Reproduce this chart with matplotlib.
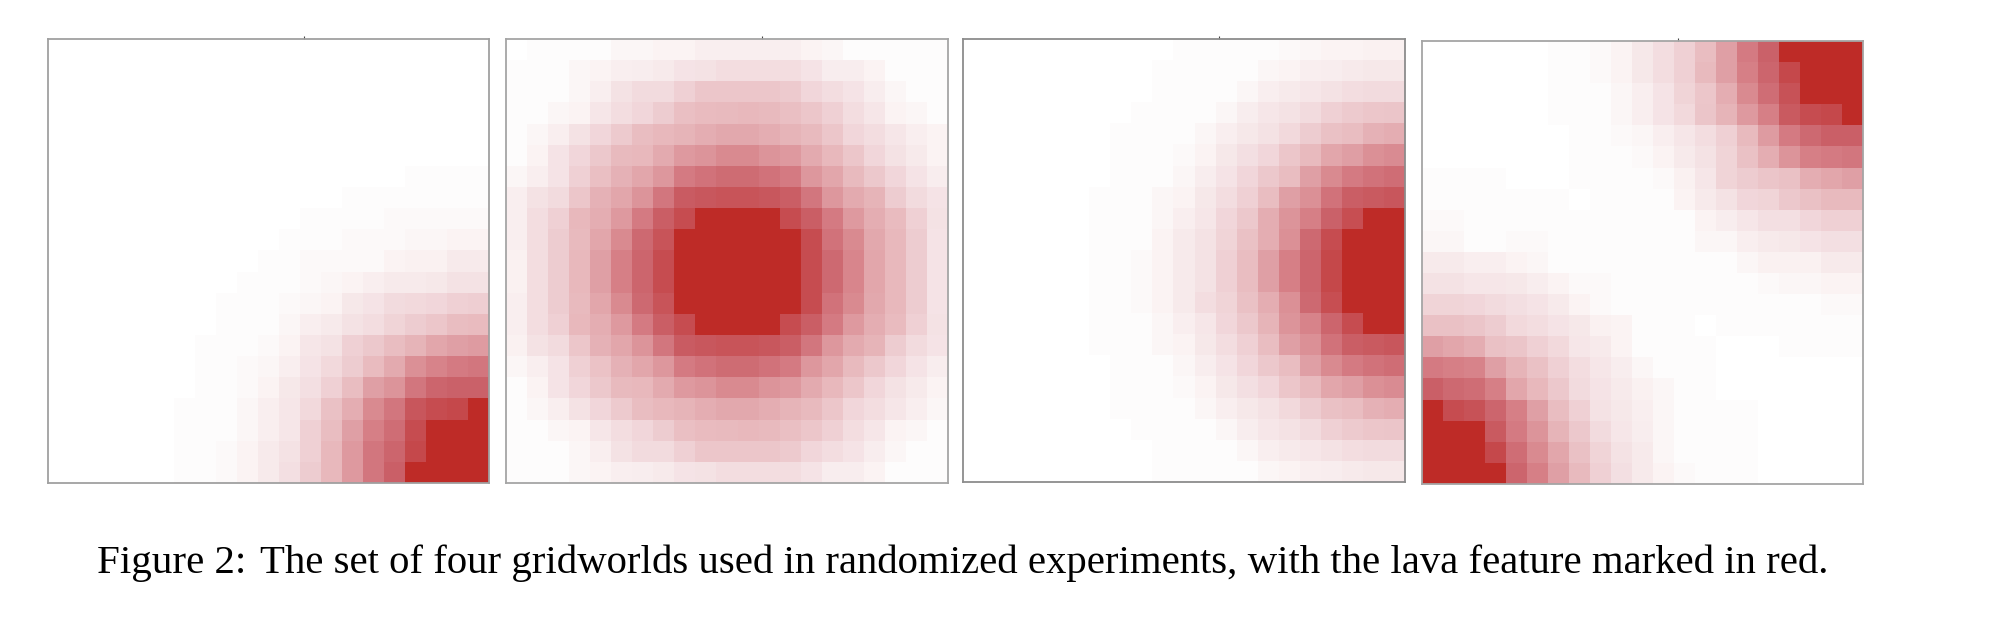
import matplotlib
matplotlib.use('Agg')
import matplotlib.pyplot as plt
from matplotlib.colors import LinearSegmentedColormap
import numpy as np

# lava intensity per cell, 0 = white, 100 = full red
corner_grid = [
    [0,0,0,0,0,0,0,0,0,0,0,0,0,0,0,0,0,0,0,0,0],
    [0,0,0,0,0,0,0,0,0,0,0,0,0,0,0,0,0,0,0,0,0],
    [0,0,0,0,0,0,0,0,0,0,0,0,0,0,0,0,0,0,0,0,0],
    [0,0,0,0,0,0,0,0,0,0,0,0,0,0,0,0,0,0,0,0,0],
    [0,0,0,0,0,0,0,0,0,0,0,0,0,0,0,0,0,0,0,0,0],
    [0,0,0,0,0,0,0,0,0,0,0,0,0,0,0,0,0,0,0,0,0],
    [0,0,0,0,0,0,0,0,0,0,0,0,0,0,0,0,0,1,1,1,1],
    [0,0,0,0,0,0,0,0,0,0,0,0,0,0,1,1,1,1,1,1,1],
    [0,0,0,0,0,0,0,0,0,0,0,0,1,1,1,1,2,2,2,2,2],
    [0,0,0,0,0,0,0,0,0,0,0,1,1,1,2,2,2,3,3,4,4],
    [0,0,0,0,0,0,0,0,0,0,1,1,2,2,2,2,4,5,5,8,8],
    [0,0,0,0,0,0,0,0,0,1,1,1,2,3,4,6,8,8,9,12,12],
    [0,0,0,0,0,0,0,0,1,1,1,2,3,4,9,11,15,16,17,20,21],
    [0,0,0,0,0,0,0,0,1,1,1,3,6,8,12,14,18,22,25,30,31],
    [0,0,0,0,0,0,0,1,1,1,2,4,10,12,20,24,30,35,42,45,47],
    [0,0,0,0,0,0,0,1,1,2,3,6,11,16,22,31,40,52,58,62,64],
    [0,0,0,0,0,0,0,1,1,2,4,9,13,20,30,45,50,64,72,74,74],
    [0,0,0,0,0,0,1,1,1,3,6,10,16,28,38,55,64,80,85,87,100],
    [0,0,0,0,0,0,1,1,1,3,6,10,20,30,45,60,68,85,100,100,100],
    [0,0,0,0,0,0,1,1,2,4,8,12,20,33,48,64,72,87,100,100,100],
    [0,0,0,0,0,0,1,1,2,4,8,13,22,33,48,64,75,100,100,100,100],
]

center_grid = [
    [0,1,1,1,1,3,3,4,4,6,6,6,6,6,4,3,1,1,1,1,1],
    [1,1,1,3,4,6,7,8,11,12,14,14,14,14,11,7,7,4,1,1,1],
    [1,1,1,3,6,12,15,15,20,25,25,25,25,23,17,14,11,7,3,1,1],
    [1,1,3,4,10,14,17,22,29,31,32,33,32,29,25,20,14,10,4,3,1],
    [1,3,6,12,17,23,30,33,35,38,41,41,38,35,32,25,17,14,10,6,4],
    [1,4,11,17,24,32,33,40,48,50,55,55,50,48,40,33,25,17,12,8,4],
    [3,6,11,20,29,36,42,49,62,66,69,69,66,62,49,42,32,24,17,11,7],
    [6,12,15,25,36,42,50,64,77,79,81,81,79,76,64,49,40,35,22,15,11],
    [6,14,20,33,38,48,62,76,85,100,100,100,100,85,76,62,48,38,31,20,12],
    [6,14,22,32,42,55,70,81,100,100,100,100,100,100,85,66,55,41,33,22,11],
    [5,14,22,33,45,60,72,85,100,100,100,100,100,100,85,70,57,42,33,22,11],
    [5,14,22,33,45,60,72,85,100,100,100,100,100,100,85,70,57,42,33,22,11],
    [6,14,22,32,42,55,70,81,100,100,100,100,100,100,85,66,55,41,33,22,11],
    [6,14,20,33,38,48,62,76,85,100,100,100,100,85,76,62,48,38,31,20,12],
    [5,12,15,25,36,42,50,64,77,79,81,81,79,76,64,49,40,35,22,15,11],
    [3,6,11,20,27,36,42,49,62,66,69,69,66,62,49,42,32,24,17,11,7],
    [1,4,11,17,24,32,33,40,48,50,55,55,50,48,40,33,25,17,12,8,4],
    [1,3,6,12,17,23,30,33,35,38,41,41,38,35,32,25,17,14,10,6,3],
    [1,1,3,4,10,14,17,22,29,31,32,33,32,29,25,20,14,10,4,3,1],
    [1,1,1,3,6,12,15,15,20,25,25,25,25,23,17,14,11,7,3,1,1],
    [1,1,1,3,4,6,7,8,11,12,14,14,14,14,11,7,7,4,1,1,1],
]

edge_grid = [
    [0,0,0,0,0,0,0,0,0,0,1,1,1,1,1,2,3,4,4,5,5],
    [0,0,0,0,0,0,0,0,0,1,1,1,1,1,3,4,6,7,8,9,9],
    [0,0,0,0,0,0,0,0,0,1,1,1,1,3,6,8,10,12,14,15,15],
    [0,0,0,0,0,0,0,0,1,1,1,1,3,7,10,12,15,20,23,25,26],
    [0,0,0,0,0,0,0,1,1,1,1,3,6,9,12,16,22,28,30,36,38],
    [0,0,0,0,0,0,0,1,1,1,2,4,9,13,17,25,32,42,46,52,54],
    [0,0,0,0,0,0,0,1,1,1,3,7,11,17,24,30,45,55,62,66,68],
    [0,0,0,0,0,0,1,1,1,3,4,9,14,20,30,45,52,66,76,78,80],
    [0,0,0,0,0,0,1,1,1,3,6,10,17,24,38,50,60,74,84,100,100],
    [0,0,0,0,0,0,1,1,1,4,8,12,18,28,38,52,70,85,100,100,100],
    [0,0,0,0,0,0,1,1,2,4,8,12,20,30,45,60,72,88,100,100,100],
    [0,0,0,0,0,0,1,1,2,4,8,12,20,30,45,60,72,88,100,100,100],
    [0,0,0,0,0,0,1,1,2,4,8,14,18,28,38,52,70,84,100,100,100],
    [0,0,0,0,0,0,1,1,1,3,6,10,17,24,35,50,58,72,85,100,100],
    [0,0,0,0,0,0,1,1,1,3,4,9,14,20,30,45,52,66,76,78,80],
    [0,0,0,0,0,0,0,1,1,1,3,7,11,17,24,30,45,55,62,66,68],
    [0,0,0,0,0,0,0,1,1,1,2,4,9,13,17,25,32,42,46,52,54],
    [0,0,0,0,0,0,0,1,1,1,1,3,6,9,12,16,22,28,30,36,38],
    [0,0,0,0,0,0,0,0,1,1,1,1,3,7,10,12,15,20,23,25,26],
    [0,0,0,0,0,0,0,0,0,1,1,1,1,3,6,8,10,12,14,15,15],
    [0,0,0,0,0,0,0,0,0,1,1,1,1,1,3,4,6,7,8,9,9],
]

diagonal_grid = [
    [0,0,0,0,0,0,1,1,2,4,9,14,20,30,45,62,74,100,100,100,100],
    [0,0,0,0,0,0,1,1,2,4,9,14,20,32,45,60,72,87,100,100,100],
    [0,0,0,0,0,0,1,1,1,3,6,11,18,25,38,55,68,82,100,100,100],
    [0,0,0,0,0,0,1,1,1,3,6,11,16,26,35,48,60,78,85,87,100],
    [0,0,0,0,0,0,0,1,1,2,3,6,10,14,20,32,47,62,70,75,75],
    [0,0,0,0,0,0,0,1,1,1,2,4,8,12,18,28,38,50,60,62,64],
    [1,1,1,1,0,0,0,1,1,1,1,2,5,10,18,22,26,28,38,42,45],
    [1,1,1,1,1,1,1,0,1,1,1,1,4,8,12,17,18,24,28,32,32],
    [2,2,1,1,1,1,1,1,1,1,1,1,1,4,7,10,13,13,17,20,20],
    [3,3,1,1,2,2,1,1,1,1,1,1,1,3,3,6,8,9,11,13,13],
    [8,8,6,6,4,3,1,1,1,1,1,1,1,1,1,3,5,5,5,8,8],
    [12,12,10,10,9,7,4,2,2,1,1,1,1,1,1,1,2,3,3,4,4],
    [18,18,17,15,13,11,8,4,2,1,1,1,1,1,1,1,1,1,1,2,2],
    [28,28,26,22,16,14,11,9,5,4,1,1,1,0,1,1,1,1,1,1,1],
    [45,42,38,28,26,20,16,10,8,4,1,1,1,1,0,0,0,1,1,1,1],
    [62,60,58,45,35,28,20,14,10,7,3,1,1,1,0,0,0,0,0,0,0],
    [75,70,68,60,42,33,24,15,11,8,5,3,1,1,0,0,0,0,0,0,0],
    [100,85,82,72,60,45,30,20,12,9,6,3,1,1,1,1,0,0,0,0,0],
    [100,100,100,78,62,50,35,24,15,10,7,3,1,1,1,1,0,0,0,0,0],
    [100,100,100,87,68,55,42,28,18,12,8,3,1,1,1,1,0,0,0,0,0],
    [100,100,100,100,72,60,45,32,20,13,8,4,2,1,1,1,0,0,0,0,0],
]

grids = [corner_grid, center_grid, edge_grid, diagonal_grid]
caption_label = "Figure 2:"
caption_body = "The set of four gridworlds used in randomized experiments, with the lava feature marked in red."

WIDTH, HEIGHT = 2012, 642
# left, right, top, bottom of each panel in image pixels
boxes = [(48, 489, 39, 483), (506, 948, 39, 483), (963, 1405, 39, 482), (1422, 1863, 41, 484)]
frame_colors = ["#a0a0a0", "#a5a5a5", "#8c8c8c", "#a5a5a5"]
tick_x = 11.67

# colours picked off the reference cells, stops on the 0-100 intensity scale
stops = [(0, "#ffffff"), (1, "#fdfcfc"), (4, "#fbf3f3"), (10, "#f6e6e8"), (20, "#efd0d4"),
         (33, "#e8b8bc"), (45, "#e0a0a6"), (60, "#d67f86"), (74, "#cb626a"), (87, "#c6494c"),
         (99, "#c4403f"), (100, "#be2b27")]
lava = LinearSegmentedColormap.from_list("lava", [(v / 100, c) for v, c in stops])

fig = plt.figure(figsize=(WIDTH / 100, HEIGHT / 100), dpi=100, facecolor="white")

for grid, (left, right, top, bottom), frame in zip(grids, boxes, frame_colors):
    ax = fig.add_axes([left / WIDTH, 1 - bottom / HEIGHT, (right - left) / WIDTH, (bottom - top) / HEIGHT])
    ax.imshow(np.array(grid), cmap=lava, vmin=0, vmax=100, aspect="auto", interpolation="nearest")
    ax.xaxis.tick_top()
    ax.set_xticks([tick_x], [""])
    ax.set_yticks([])
    ax.tick_params(axis="x", length=2, width=0.8, color="#444444")
    for spine in ax.spines.values():
        spine.set_color(frame)
        spine.set_linewidth(1.3)

# LaTeX leaves a wider gap after the colon, so the label is placed on its own
fig.text(97 / WIDTH, 1 - 573 / HEIGHT, caption_label, family="Liberation Serif", fontsize=29.5,
         color="black", ha="left", va="baseline")
fig.text(260.5 / WIDTH, 1 - 573 / HEIGHT, caption_body, family="Liberation Serif", fontsize=29.3,
         color="black", ha="left", va="baseline")

fig.savefig("out.png", dpi=100)
